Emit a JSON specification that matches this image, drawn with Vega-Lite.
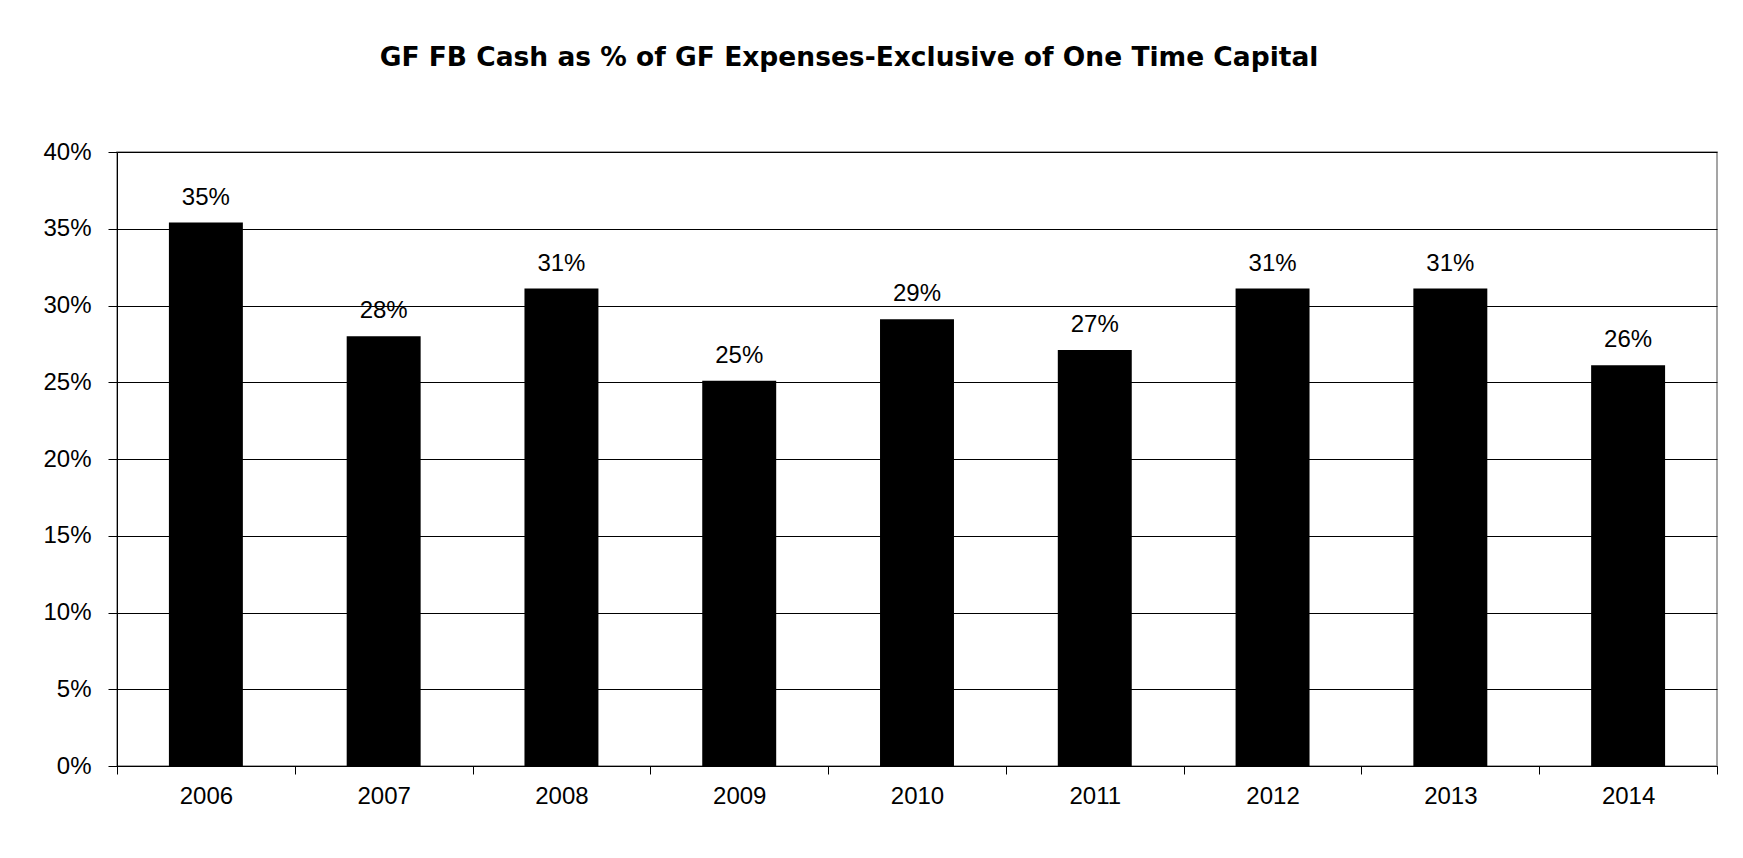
{
  "$schema": "https://vega.github.io/schema/vega-lite/v6.json",
  "autosize": "none",
  "width": 1600,
  "height": 614,
  "padding": {"left": 117, "top": 152, "right": 26, "bottom": 92},
  "background": "white",
  "title": {
    "text": "GF FB Cash as % of GF Expenses-Exclusive of One Time Capital",
    "font": "DejaVu Sans",
    "fontSize": 26.5,
    "fontWeight": "bold",
    "color": "black",
    "anchor": "middle",
    "baseline": "alphabetic",
    "offset": 48,
    "dx": -68
  },
  "data": {
    "values": [
      {"year": "2006", "pct": 0.354},
      {"year": "2007", "pct": 0.280},
      {"year": "2008", "pct": 0.311},
      {"year": "2009", "pct": 0.251},
      {"year": "2010", "pct": 0.291},
      {"year": "2011", "pct": 0.271},
      {"year": "2012", "pct": 0.311},
      {"year": "2013", "pct": 0.311},
      {"year": "2014", "pct": 0.261}
    ]
  },
  "encoding": {
    "x": {
      "field": "year",
      "type": "ordinal",
      "scale": {"paddingInner": 0, "paddingOuter": 0},
      "axis": {
        "title": null,
        "labelAngle": 0,
        "labelFont": "Liberation Sans",
        "labelFontSize": 24,
        "labelColor": "black",
        "labelPadding": 10,
        "domainColor": "black",
        "tickColor": "black",
        "tickSize": 8,
        "tickBand": "extent",
        "grid": false
      }
    },
    "y": {
      "field": "pct",
      "type": "quantitative",
      "scale": {"domain": [0, 0.4], "nice": false},
      "axis": {
        "title": null,
        "format": ".0%",
        "values": [0, 0.05, 0.1, 0.15, 0.2, 0.25, 0.3, 0.35, 0.4],
        "labelFont": "Liberation Sans",
        "labelFontSize": 24,
        "labelColor": "black",
        "labelPadding": 17,
        "domainColor": "black",
        "tickColor": "black",
        "tickSize": 9,
        "grid": true,
        "gridColor": "black",
        "gridOpacity": 1,
        "gridWidth": 1
      }
    }
  },
  "layer": [
    {"mark": {"type": "bar", "color": "black", "width": {"band": 0.416}}},
    {
      "mark": {"type": "text", "font": "Liberation Sans", "fontSize": 24, "color": "black", "baseline": "alphabetic", "dy": -18},
      "encoding": {"text": {"field": "pct", "type": "quantitative", "format": ".0%"}}
    }
  ],
  "config": {
    "view": {"stroke": "#888888", "strokeWidth": 1.5}
  }
}
